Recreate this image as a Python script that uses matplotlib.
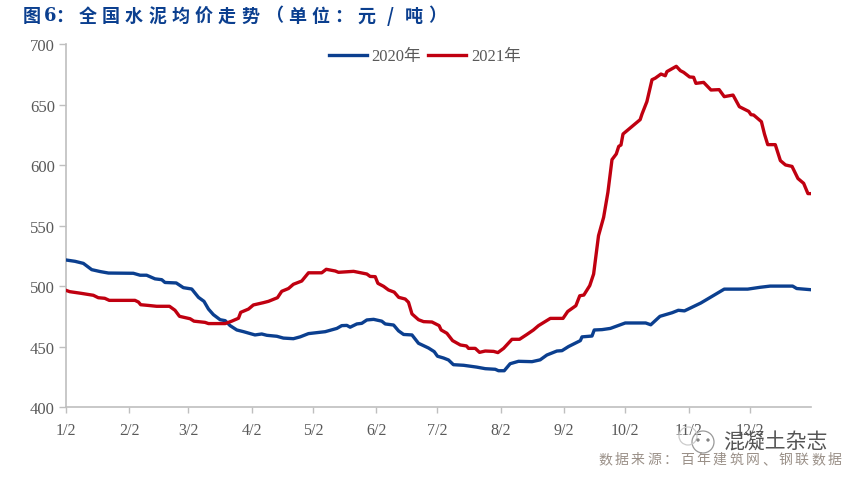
import matplotlib
matplotlib.use("Agg")
import matplotlib.pyplot as plt
from matplotlib.patches import Circle, Arc

days_2020 = [0,4.4,8.5,12.6,16.8,20.8,33,36.3,39.5,43.6,46.9,48.5,54,57.5,61.6,64.9,67.6,69.8,72.2,75.5,78,80.4,83.7,87,92.6,95.9,98.4,103.3,106.5,111.4,114.7,118.8,127,132.7,135.1,137.6,139.2,142.5,144.9,147.4,150.7,154.7,156.4,160.5,162.9,165.4,169.5,172.7,177.6,180.4,182,185,187.4,189.8,194.8,201.2,205.4,210.3,211.9,214.7,217.6,221.7,228.3,232.3,235.6,240.5,243,246.2,252,252.8,257.7,258.8,262.6,266.7,274,284,286.5,291,297,300,303,311,317,322.5,334,340,345,356,358,365]
vals_2020 = [521.6,520.5,518.8,513.6,512,510.8,510.6,509,509,506,505.3,503,502.6,498.7,497.6,490.7,487.4,481,476.4,472.2,471.4,467.3,463.7,462.3,459.6,460.4,459.3,458.5,457,456.5,458,460.7,462.3,465,467.3,467.5,466,468.7,469.2,472,472.5,471,468.7,467.8,463,460,459.6,452.7,448.8,445.8,442,440.5,438.9,435,434.5,433,431.7,431.2,430,430,435.8,437.8,437.5,439,443,446.3,446.6,450,454.9,458,458.7,463.7,464,465,469.5,469.5,468,475,478,480,479.5,486,492,497.5,497.5,499,500,500,498,497]
days_2021 = [0,1.8,7.5,13.4,15.8,19,21.2,33.8,35.5,36.6,40.4,44.4,50.7,53.4,55.6,60.8,62.7,68.1,69.8,78,81.2,84.5,85.6,89.4,91.8,96.7,99.2,103.6,105.7,109,111.4,115.5,118.8,125.3,127.5,131.9,133.5,140.9,147.4,149,151.5,152.8,155.6,158,160.8,163,166.2,167.8,169.5,172.7,175.2,179.3,182.8,183.8,186.6,189.4,193.2,196.2,197.2,200.5,202.6,205.4,209.5,211.6,214.4,218.5,222.2,225.8,229,231.5,237.3,243.5,245.8,249.8,251.7,253.7,256.6,258.5,260.1,260.9,263.4,265.5,267.5,269.6,270.8,271.9,272.9,281.3,282.2,284.6,287.1,288.7,291.5,293.6,294.4,299,301,302.6,305.5,307.5,308.6,312.4,316,320,322.5,326.8,329.9,334.5,335.6,336.9,340.7,342.2,343.8,347.5,350,352.5,355.7,358.6,361.4,363.5,364.6]
vals_2021 = [496.5,495.4,494,492.4,490.4,489.9,488.2,488.2,486.8,484.6,484,483.3,483.3,480,475,473,471,470,469,469,471,473.4,478.3,481,484.4,486.3,487.4,490.4,495.7,498,501.5,504.2,511,511,513.9,512.5,511.4,512.2,510,508,507.8,502.3,499.8,496.8,495,490.7,489.3,486.6,477,472.2,470.6,470.3,467.3,463.7,461,454.9,451.3,450.5,448.5,448.5,445.2,446.3,446,445,448.5,456,456,460,463.7,467.3,473.3,473.3,479,483.8,492,492.6,500.4,510,531.2,541.7,556.9,577.6,604.6,609.3,615.6,616.7,625.8,637.7,642.3,652.6,670.7,672,675.4,674,677.4,681.8,678.2,676.8,673,672.7,667.7,668.5,662.2,662.5,656.7,658,648.4,644.5,641.8,641.5,636,625.8,617,617,603.8,600.2,599,589,585,576.5,576.5]
tick_days = [0,31,60,91,121,152,182,213,244,274,305,335]
tick_labels = ["1/2","2/2","3/2","4/2","5/2","6/2","7/2","8/2","9/2","10/2","11/2","12/2"]
y_ticks = [400,450,500,550,600,650,700]
series_names = ["2020年","2021年"]
title_text = "图6：全国水泥均价走势（单位：元/吨）"
source_text = "数据来源：百年建筑网、钢联数据"
mark_text = "混凝土杂志"

BLUE, RED, GRAY, AXC = "#0b3f8f", "#c00010", "#595959", "#bfbfbf"
CJK = ["Noto Sans CJK SC", "DejaVu Sans"]
SERIF = ["Liberation Serif", "Noto Sans CJK SC"]

W, H = 854, 481
fig = plt.figure(figsize=(W/100, H/100), dpi=100)
ax = fig.add_axes([66/W, 1-408/H, (811-66)/W, (408-45.3)/H])
ax.plot(days_2020, vals_2020, color=BLUE, lw=2.4, label=series_names[0], solid_joinstyle="round", zorder=3)
ax.plot(days_2021, vals_2021, color=RED, lw=2.4, label=series_names[1], solid_joinstyle="round", zorder=4)
ax.set_xlim(0, 365)
ax.set_ylim(400, 700)
ax.set_xticks(tick_days, tick_labels, family=SERIF, fontsize=11.5, color=GRAY)
ax.set_yticks(y_ticks, [str(v) for v in y_ticks], family=SERIF, fontsize=12, color=GRAY)
ax.tick_params(axis="y", direction="out", length=5, width=1, color=AXC, pad=3)
ax.tick_params(axis="x", direction="out", length=4.5, width=1, color=AXC, pad=6)
for s in ["top", "right"]:
    ax.spines[s].set_visible(False)
for s in ["left", "bottom"]:
    ax.spines[s].set_color(AXC)
    ax.spines[s].set_linewidth(1.2)

ax.legend(loc="upper center", bbox_to_anchor=(0.4815, 1.007), ncol=2, frameon=False, handlelength=2.28,
          columnspacing=0.42, handletextpad=0.3, borderaxespad=0.0,
          labelcolor=GRAY, prop={"family": SERIF, "size": 12})

# letter-spaced text: one character per slot, positioned in figure pixels
def spaced(text, x0, y, pitch, **kw):
    x = x0
    for ch in text:
        fig.text(x/W, 1-y/H, ch, ha="center", va="center", family=CJK, **kw)
        x += pitch

spaced(title_text[:1], 32, 16, 23, fontsize=13, fontweight="black", color=BLUE)
fig.text(50/W, 1-16/H, title_text[1], ha="center", va="center", family="DejaVu Serif", fontweight="bold", fontsize=13, color=BLUE)
spaced(title_text[2:], 64, 16, 23.3, fontsize=13, fontweight="bold", color=BLUE)
spaced(source_text, 605, 460, 16.4, fontsize=10, color="#9a9088")

fig.text(723/W, 1-443/H, mark_text, ha="left", va="center", family=CJK, fontsize=15, color="#555555", style="italic", zorder=6)
for (cx, cy, r, ec) in [(703, 443, 11, "#999999"), (688, 437, 9, "#cccccc"), (698, 441, 1, "#777777"), (708, 441, 1, "#777777")]:
    fig.patches.append(Circle((cx, H-cy), r, transform=None, fill=False, ec=ec, lw=0.9))
fig.savefig("out.png", dpi=100, facecolor="white")
